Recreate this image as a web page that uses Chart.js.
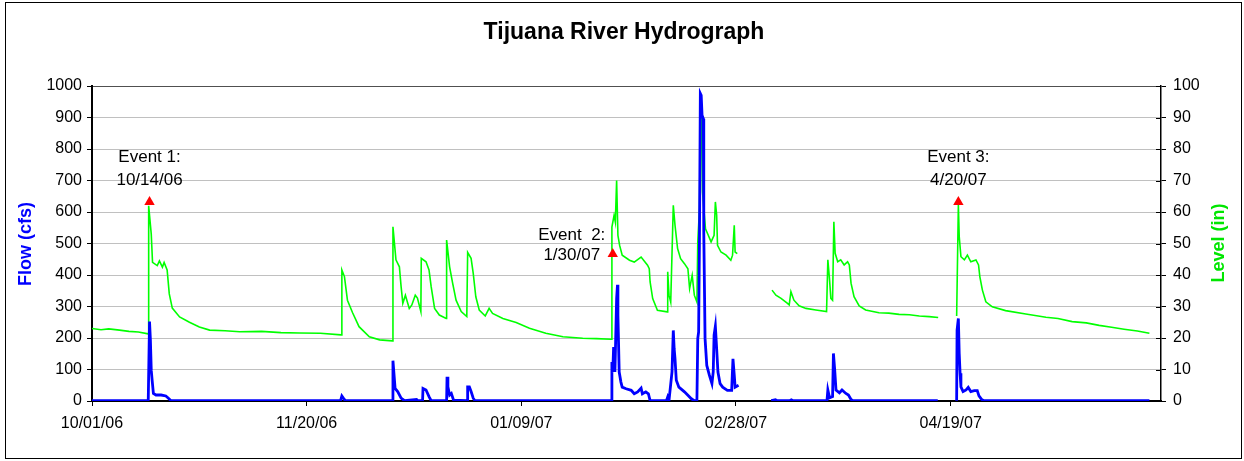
<!DOCTYPE html>
<html>
<head>
<meta charset="utf-8">
<title>Tijuana River Hydrograph</title>
<script src="https://cdn.jsdelivr.net/npm/chart.js@4.4.1/dist/chart.umd.min.js"></script>
<style>
  html, body { margin: 0; padding: 0; background: #fff; }
</style>
</head>
<body>
<canvas id="hydroChart" width="1244" height="461"></canvas>
<script>
// Days are counted from 10/01/06; null marks a gap in the record.
const chartTitle = 'Tijuana River Hydrograph';

const tickDays = [0, 50, 100, 150, 200];
const tickLabels = ['10/01/06', '11/20/06', '01/09/07', '02/28/07', '04/19/07'];

// Flow (cfs), left axis
const flowDays = [
  0, 13.1, 13.2, 13.4, 13.6, 13.8, 14.0, 14.3, 14.9, 16.1, 17.2, 17.8, 18.4,
  57.9, 58.2, 58.5, 59.0, 70.0, 70.1, 70.6, 71.2, 72.0, 72.8, 75.6, 75.9,
  77.0, 77.1, 77.8, 78.5, 79.0, 82.6, 82.7, 82.9, 83.3, 83.7, 84.2,
  87.4, 87.5, 87.9, 88.3, 88.8, 89.2,
  121.0, 121.1, 121.3, 121.5, 121.8, 122.2, 122.4, 122.5, 122.8, 123.2, 123.5, 124.4,
  125.6, 126.3, 127.1, 127.9, 128.2, 129.0, 129.6, 130.0,
  133.8, 134.1, 134.4, 135.1, 135.4, 135.6, 135.8, 136.1, 136.7, 138.0, 138.8, 139.6, 140.3,
  140.9, 141.1, 141.3, 141.5, 141.7, 141.9, 142.1, 142.4, 142.5, 142.8, 143.2, 143.8,
  144.4, 144.7, 144.9, 145.2, 145.5, 145.8, 146.3, 146.9, 148.0, 149.0, 149.3, 149.6,
  149.8, 150.6, 154,
  158.2, 159.2, 159.6, 162.5, 162.9, 163.3, 171.2, 171.4, 171.8, 172.5, 172.7, 173.0,
  173.3, 174.1, 174.7, 175.6, 176.2, 176.8, 177.2, 197.0, 199,
  201.4, 201.5, 201.8, 202.0, 202.2, 202.4, 202.9, 203.6, 204.1, 204.7, 205.5, 206.2,
  206.6, 207.2, 207.8, 246.3
];
const flowValues = [
  1, 1, 1, 252, 194, 98, 67, 24, 19, 19, 16, 9, 1,
  1, 16, 10, 1, 1, 128, 40, 30, 9, 1, 5, 1,
  1, 40, 35, 14, 1, 1, 77, 45, 19, 24, 3,
  1, 45, 45, 30, 9, 1,
  1, 124, 92, 171, 92, 325, 369, 272, 92, 60, 44, 39,
  34, 23, 29, 41, 23, 29, 23, 1,
  1, 13, 2, 92, 224, 166, 134, 66, 44, 29, 18, 7, 1,
  1, 198, 219, 526, 976, 970, 907, 896, 536, 198, 113, 82,
  55, 92, 209, 237, 166, 92, 55, 44, 34, 34, 134, 82,
  44, 50, null,
  1, 4, 1, 1, 4, 1, 1, 35, 10, 14, 151, 98,
  35, 26, 35, 24, 19, 5, 1, 1, null,
  1, 225, 262, 151, 88, 45, 30, 35, 43, 30, 33, 33,
  16, 5, 1, 1
];

// Level (in), right axis
const levelDays = [
  0, 2.1, 3.9, 6.4, 8.6, 10.8, 13.1, 13.2, 13.8, 14.1, 15.2, 15.7, 16.4, 16.8, 17.5, 18.0, 18.7, 20.4,
  22.7, 25.0, 27.4, 31.0, 34.4, 39.5, 44.0, 48.3, 53.2, 58.0, 58.2, 58.8, 59.5, 60.7, 62.2, 64.6, 67.0,
  70.0, 70.1, 70.8, 71.6, 72.0, 72.4, 73.0, 73.9, 74.5, 75.3, 75.8, 76.6,
  76.7, 77.8, 78.5, 79.0, 79.8, 80.9, 82.5, 82.6, 83.3, 84.0, 84.8, 86.0, 87.3,
  87.5, 88.3, 88.8, 89.4, 90.2, 91.6, 92.5, 93.3, 95.7, 98.8, 101.9, 105.7,
  109.7, 114.3, 117.5, 120.9,
  121.1, 121.6, 121.9, 122.2, 122.5, 122.9, 123.5, 125.2, 126.3, 127.9, 129.4,
  129.8, 130.0, 130.6, 131.7, 134.0, 134.1, 134.4, 134.8, 135.4, 135.8, 136.4,
  137.1, 138.0, 138.8, 139.2, 139.8, 140.3, 140.9, 141.1, 141.5, 141.7, 141.9,
  142.2, 142.9, 143.4, 144.2, 144.9, 145.2, 145.5, 145.7, 146.5, 147.7, 148.8,
  149.2, 149.6, 149.8, 150.3, 154,
  158.4, 159.3, 160.5, 162.0, 162.4, 162.8, 163.5, 164.7, 166.3, 168.6, 171.1,
  171.4, 171.8, 172.1, 172.5, 172.8, 173.1, 173.7, 174.4, 175.2, 176.0, 176.4,
  176.8, 177.5, 178.7, 180.2, 183.3, 185.6, 188.0, 190.4, 192.7, 195.0, 197.1, 199,
  201.4, 201.8, 202.0, 202.4, 203.2, 203.9, 204.7, 205.9, 206.5, 206.8, 207.4,
  208.2, 209.7, 212.8, 217.5, 222.2, 225.0, 228.3, 231.6, 234.6, 237.5, 240.4, 243.5, 246.3
];
const levelValues = [
  23, 22.6, 22.9, 22.5, 22.1, 21.9, 21.3, 62, 53, 44, 43, 44.5, 42.5, 44, 41.6, 34, 29.5, 26.7,
  25, 23.5, 22.5, 22.3, 22, 22.1, 21.7, 21.6, 21.5, 21, 41.6, 39.5, 32, 28, 23.6, 20.4, 19.4,
  19.1, 55.3, 44.8, 42.6, 36.3, 31, 33.6, 29.4, 30.5, 33.6, 32.7, 28.4,
  45.3, 44.2, 41.6, 36.3, 29.4, 27.3, 26.2, 51.1, 42.6, 37.4, 32, 28.4, 26.8,
  47.2, 45.3, 40.5, 33.1, 28.9, 27, 29.4, 27.8, 26.2, 24.9, 23.1, 21.5,
  20.4, 19.9, 19.8, 19.6,
  55.2, 58.9, 56.8, 70, 52.6, 49.4, 46.3, 44.7, 44.1, 45.7, 43.1,
  42, 37.8, 32.5, 28.8, 28.3, 41, 33.6, 31.4, 62.1, 55.8, 48.4,
  45.2, 43.6, 42, 35.7, 39.9, 33.6, 31.4, 50.5, 61, 90.7, 92.5,
  66.3, 54.7, 53.1, 50.5, 52.6, 63.2, 59, 49.4, 47.3, 46.3, 44.7,
  46.3, 55.8, 47.3, 46.8, null,
  35.2, 33.6, 32.6, 31, 30.5, 34.7, 32, 30.2, 29.4, 28.9, 28.4,
  44.8, 38.4, 32.6, 32, 56.9, 46.9, 44.2, 44.8, 43.2, 44.2, 43.2,
  37.4, 33.1, 30.2, 28.9, 28, 27.9, 27.5, 27.4, 27, 26.8, 26.5, null,
  27, 62.2, 52.2, 45.8, 44.8, 46.3, 44.2, 44.8, 43.2, 39.5, 35.2,
  31.5, 29.9, 28.7, 27.6, 26.6, 26.2, 25.2, 24.8, 24, 23.4, 22.8, 22.2, 21.5
];

// Sampling events, marked on the level axis
const eventDays = [13.4, 121.3, 201.8];
const eventLevels = [63.2, 46.7, 63.2];
const eventTitles = ['Event 1:', 'Event  2:', 'Event 3:'];
const eventDates = ['10/14/06', '1/30/07', '4/20/07'];

// label placement relative to each marker: [dx, dy line 1, dy line 2]
const eventLabelOffsets = [[0, -45, -22], [-41, -19, 1], [0, -45, -22]];

const FONT = '"Liberation Sans", Arial, sans-serif';
Chart.defaults.font.family = FONT;
Chart.defaults.font.size = 16;
Chart.defaults.color = '#000';

const toPoints = (days, values) => days.map((d, i) => ({ x: d, y: values[i] }));

const decorations = {
  id: 'decorations',
  afterDraw(chart) {
    const { ctx, chartArea, scales } = chart;
    ctx.save();

    // outer frame
    ctx.strokeStyle = '#000';
    ctx.lineWidth = 1;
    ctx.strokeRect(5.5, 2.5, 1236, 456);

    // title
    ctx.fillStyle = '#000';
    ctx.textAlign = 'center';
    ctx.textBaseline = 'middle';
    ctx.font = 'bold 23px ' + FONT;
    ctx.fillText(chartTitle, 624, 33);

    // axis titles
    ctx.font = 'bold 18px ' + FONT;
    ctx.save();
    ctx.translate(26, 244);
    ctx.rotate(-Math.PI / 2);
    ctx.fillStyle = '#0000ff';
    ctx.fillText('Flow (cfs)', 0, 0);
    ctx.restore();
    ctx.save();
    ctx.translate(1219, 243);
    ctx.rotate(-Math.PI / 2);
    ctx.fillStyle = '#00e600';
    ctx.fillText('Level (in)', 0, 0);
    ctx.restore();

    // right axis ticks cross the axis line
    ctx.strokeStyle = '#000';
    ctx.lineWidth = 1;
    scales.y2.ticks.forEach(t => {
      const py = Math.round(scales.y2.getPixelForValue(t.value)) + 0.5;
      ctx.beginPath();
      ctx.moveTo(chartArea.right - 5, py);
      ctx.lineTo(chartArea.right, py);
      ctx.stroke();
    });

    // event labels
    ctx.font = '17px ' + FONT;
    ctx.fillStyle = '#000';
    eventDays.forEach((d, i) => {
      const px = scales.x.getPixelForValue(d);
      const py = scales.y2.getPixelForValue(eventLevels[i]);
      const [dx, dy1, dy2] = eventLabelOffsets[i];
      ctx.fillText(eventTitles[i], px + dx, py + dy1);
      ctx.fillText(eventDates[i], px + dx, py + dy2);
    });

    ctx.restore();
  }
};

new Chart(document.getElementById('hydroChart'), {
  type: 'line',
  data: {
    datasets: [
      {
        label: 'Events',
        data: toPoints(eventDays, eventLevels),
        yAxisID: 'y2',
        showLine: false,
        pointStyle: 'triangle',
        pointRadius: 6,
        backgroundColor: '#ff0000',
        borderColor: '#ff0000',
        borderWidth: 0,
        order: 0
      },
      {
        label: 'Flow (cfs)',
        data: toPoints(flowDays, flowValues),
        yAxisID: 'y',
        borderColor: '#0000ff',
        borderWidth: 2.8,
        pointRadius: 0,
        tension: 0,
        spanGaps: false,
        order: 1
      },
      {
        label: 'Level (in)',
        data: toPoints(levelDays, levelValues),
        yAxisID: 'y2',
        borderColor: '#00ff00',
        borderWidth: 1.6,
        pointRadius: 0,
        tension: 0,
        spanGaps: false,
        order: 2
      }
    ]
  },
  options: {
    responsive: false,
    animation: false,
    devicePixelRatio: 1,
    layout: { padding: { top: 86, left: 0, right: 0, bottom: 0 } },
    plugins: {
      legend: { display: false },
      title: { display: false },
      tooltip: { enabled: false }
    },
    scales: {
      x: {
        type: 'linear',
        min: 0,
        max: 249,
        afterBuildTicks: scale => {
          scale.ticks = tickDays.map(v => ({ value: v }));
        },
        afterFit: scale => { scale.height = 60; },
        ticks: {
          padding: 8,
          maxRotation: 0,
          callback: value => tickLabels[tickDays.indexOf(value)]
        },
        grid: { drawOnChartArea: false, tickLength: 5, tickColor: '#000' },
        border: { color: '#000', width: 2 }
      },
      y: {
        position: 'left',
        min: 0,
        max: 1000,
        ticks: { stepSize: 100, padding: 5, callback: value => String(value) },
        afterFit: scale => { scale.width = 92; },
        grid: {
          color: c => (c.tick && c.tick.value === 1000 ? '#505050' : '#c0c0c0'),
          tickLength: 5,
          tickColor: '#000'
        },
        border: { color: '#000', width: 2 }
      },
      y2: {
        position: 'right',
        min: 0,
        max: 100,
        ticks: { stepSize: 10, padding: 7, callback: value => String(value) },
        afterFit: scale => { scale.width = 83; },
        grid: { drawOnChartArea: false, tickLength: 5, tickColor: '#000' },
        border: { color: '#000', width: 1.5 }
      }
    }
  },
  plugins: [decorations]
});
</script>
</body>
</html>
